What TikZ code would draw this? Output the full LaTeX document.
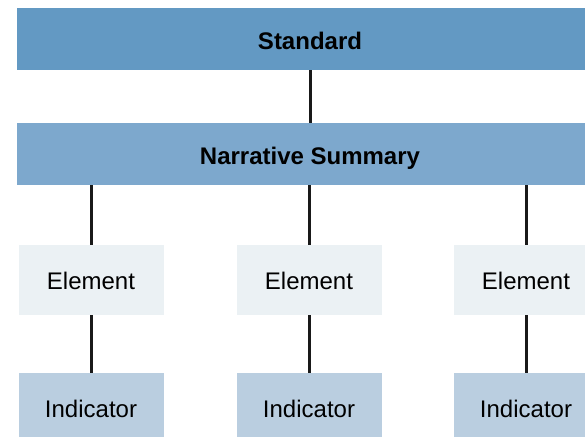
\documentclass[tikz,border=0pt]{standalone}
\usepackage{fontspec}
\setmainfont{Liberation Sans}
\usepackage{tikz}
\usetikzlibrary{backgrounds,calc}
\definecolor{stdblue}{HTML}{6399C3}
\definecolor{narrblue}{HTML}{7DA8CD}
\definecolor{elgray}{HTML}{EBF1F4}
\definecolor{indblue}{HTML}{BACEE0}

\begin{document}
\begin{tikzpicture}[x=0.5pt,y=-0.5pt,
  bar/.style={minimum width=293pt,minimum height=31pt,inner sep=0pt,text height=12.5pt,text depth=2pt,font=\fontsize{12}{14}\selectfont\bfseries},
  elbox/.style={fill=elgray,minimum width=72.5pt,minimum height=35pt,inner sep=0pt,text height=11.5pt,text depth=2pt,font=\fontsize{12}{14}\selectfont},
  indbox/.style={fill=indblue,minimum width=72.5pt,minimum height=34pt,inner sep=0pt,text height=12.5pt,text depth=2pt,font=\fontsize{12}{14}\selectfont},
  link/.style={line width=1.5pt,black!90}]
\useasboundingbox (0,0) rectangle (585,437);
\clip (0,0) rectangle (585,437);
\node[bar,fill=stdblue] (std) at (310,39) {Standard};
\node[bar,fill=narrblue] (narr) at (310,154) {Narrative Summary};
\foreach \i/\x in {1/91,2/309,3/526}{
  \node[elbox] (el\i) at (\x,280) {Element};
  \node[indbox] (ind\i) at (\x,407) {Indicator};
  \draw[link] (el\i.north |- narr.south) -- (el\i.north);
  \draw[link] (el\i.south) -- (ind\i.north);
}
\draw[link] (std.south) -- (narr.north);
\end{tikzpicture}
\end{document}
